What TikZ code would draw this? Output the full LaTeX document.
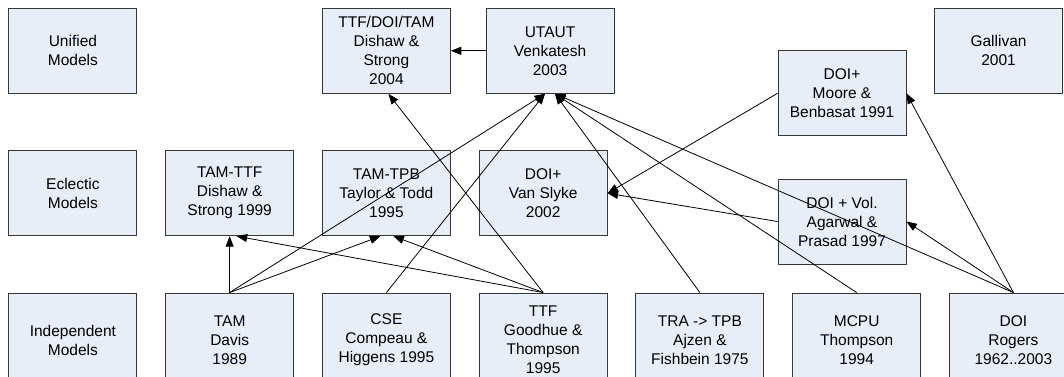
\documentclass[tikz,border=0pt]{standalone}
\usepackage{fontspec}
\setmainfont{Liberation Sans}
\usetikzlibrary{arrows.meta,calc}
\definecolor{boxfill}{RGB}{232,238,247}
\definecolor{boxline}{RGB}{55,55,55}
\begin{document}
\begin{tikzpicture}[x=1pt,y=-1pt,
  model/.style={draw=boxline, fill=boxfill, line width=0.9pt,
    minimum width=128pt, minimum height=85pt, inner sep=0pt,
    align=center, font=\fontsize{15.5}{19}\selectfont},
  basemodel/.style={model, minimum height=94pt},
  link/.style={draw=black, line width=0.8pt,
    -{Triangle[length=10.5pt,width=8pt]}}
]
\clip (0,0) rectangle (1064,376);

% top row: unified models
\node[model] (unified) at (72.9,50.8)  {Unified\\Models};
\node[model] (tdt)     at (386.4,50.8) {TTF/DOI/TAM\\Dishaw \&\\Strong\\2004};
\node[model] (utaut)   at (550,50.8)   {UTAUT\\Venkatesh\\2003};
\node[model] (gallivan) at (998.5,50.8) {Gallivan\\2001};

% middle row: eclectic models
\node[model] (eclectic) at (72.9,193.2)   {Eclectic\\Models};
\node[model] (tamttf)   at (229.65,193.2) {TAM-TTF\\Dishaw \&\\Strong 1999};
\node[model] (tamtpb)   at (386.4,193.2)  {TAM-TPB\\Taylor \& Todd\\1995};
\node[model] (doivs)    at (543.15,193.2) {DOI+\\Van Slyke\\2002};
\node[model] (moore)    at (842,93.3)     {DOI+\\Moore \&\\Benbasat 1991};
\node[model] (vol)      at (842,221.5)    {DOI + Vol.\\Agarwal \&\\Prasad 1997};

% bottom row: independent models
\node[basemodel] (indep)  at (72.9,340)   {Independent\\Models};
\node[basemodel] (tam)    at (229.65,340) {TAM\\Davis\\1989};
\node[basemodel] (cse)    at (386.4,340)  {CSE\\Compeau \&\\Higgens 1995};
\node[basemodel] (ttf)    at (543.15,340) {TTF\\Goodhue \&\\Thompson\\1995};
\node[basemodel] (tra)    at (699.9,340)  {TRA -> TPB\\Ajzen \&\\Fishbein 1975};
\node[basemodel] (mcpu)   at (856.65,340) {MCPU\\Thompson\\1994};
\node[basemodel] (rogers) at (1013.4,340) {DOI\\Rogers\\1962..2003};

% influences
\draw[link] (utaut.west) -- (tdt.east);
\draw[link] (tam.north) -- (tamttf.south);
\draw[link] (tam.north) -- ($(tamtpb.south)+(-6,0)$);
\draw[link] (tam.north) -- ($(utaut.south)+(-5,0)$);
\draw[link] (ttf.north) -- ($(tamttf.south)+(7,0)$);
\draw[link] (ttf.north) -- ($(tamtpb.south)+(7,0)$);
\draw[link] (ttf.north) -- ($(tdt.south)+(2,0)$);
\draw[link] (cse.north) -- ($(utaut.south)+(-5,0)$);
\draw[link] (tra.north) -- ($(utaut.south)+(5,0)$);
\draw[link] (mcpu.north) -- ($(utaut.south)+(5,0)$);
\draw[link] (rogers.north) -- ($(utaut.south)+(5,0)$);
\draw[link] (moore.west) -- (doivs.east);
\draw[link] (vol.west) -- (doivs.east);
\draw[link] (rogers.north) -- (vol.east);
\draw[link] (rogers.north) -- (moore.east);
\end{tikzpicture}
\end{document}
